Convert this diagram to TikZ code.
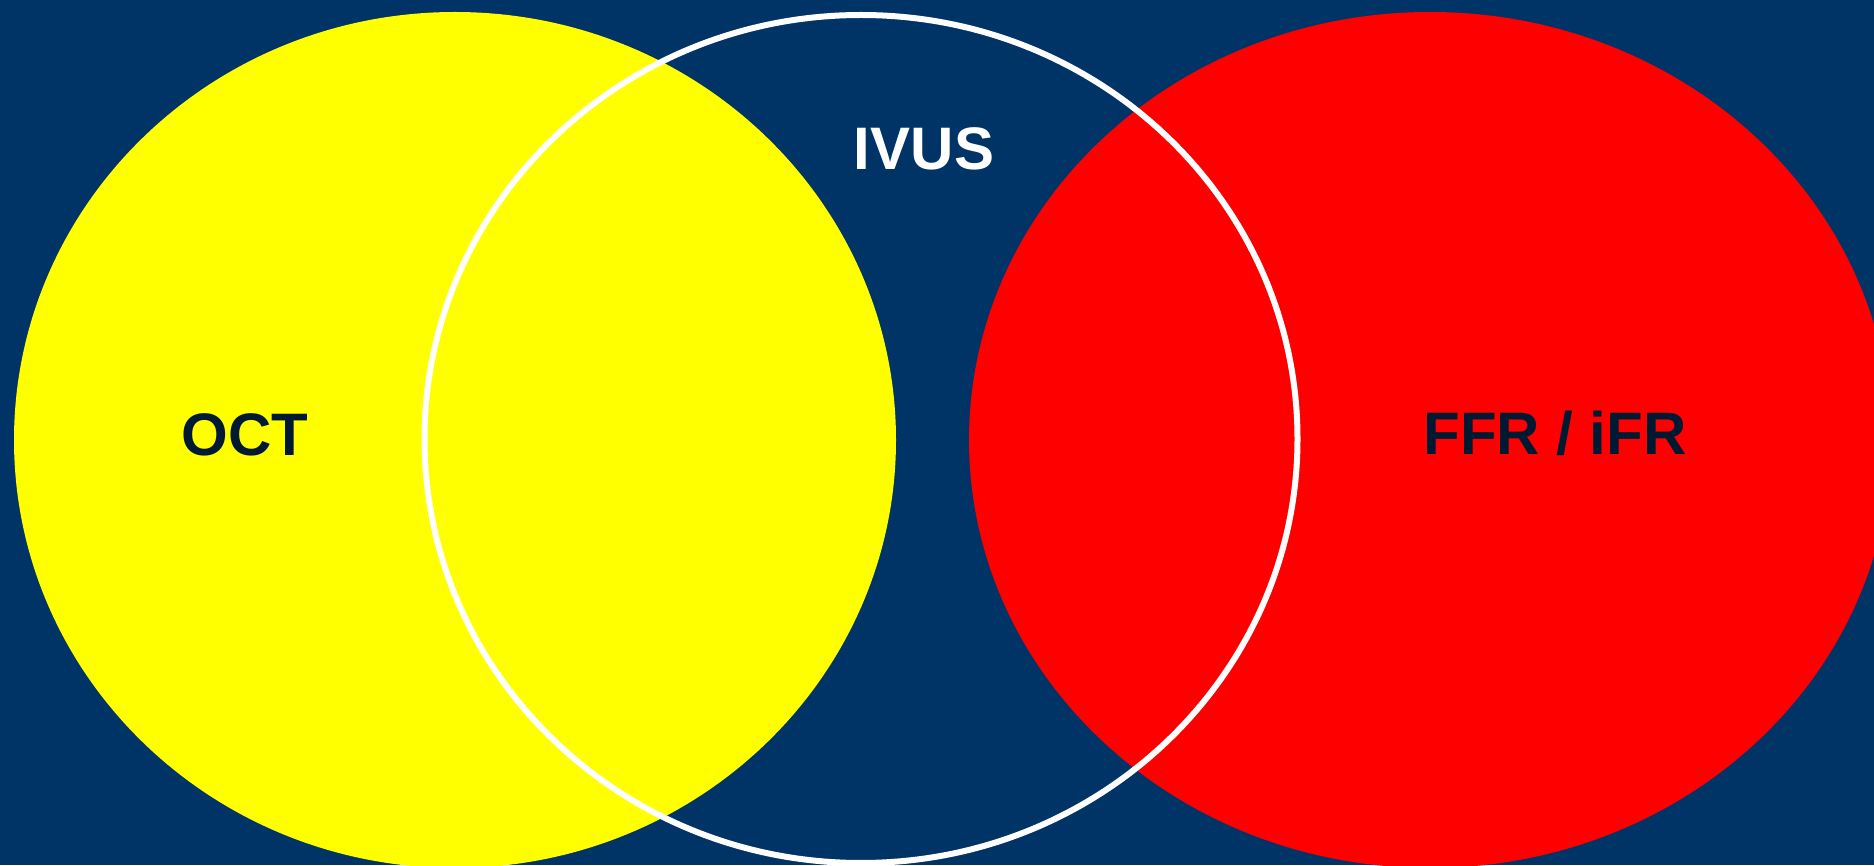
\documentclass[tikz,border=0pt]{standalone}
\usepackage{fontspec}
\setmainfont{Liberation Sans}
\definecolor{bgblue}{RGB}{0,51,102}
\definecolor{labelnavy}{RGB}{0,25,50}
\definecolor{octyellow}{RGB}{255,255,0}
\definecolor{ffrred}{RGB}{255,0,0}
\begin{document}
\begin{tikzpicture}[x=1pt,y=1pt,
  lbl/.style={font=\fontsize{60}{60}\selectfont\bfseries, inner sep=0pt, anchor=base}]
\useasboundingbox (0,0) rectangle (1874,865);
\clip (0,0) rectangle (1874,865);
\fill[bgblue] (0,0) rectangle (1874,865);
\fill[octyellow] (455,425) ellipse [x radius=441, y radius=428];
\fill[ffrred] (1430,425) ellipse [x radius=461, y radius=428];
\draw[white, line width=6pt] (861,426) ellipse [x radius=436.5, y radius=424];
\node[lbl, text=labelnavy] (oct) at (245,409) {OCT};
\node[lbl, text=white] (ivus) at (924,695) {IVUS};
\node[lbl, text=labelnavy] (ffr) at (1555,410) {FFR / iFR};
\end{tikzpicture}
\end{document}
